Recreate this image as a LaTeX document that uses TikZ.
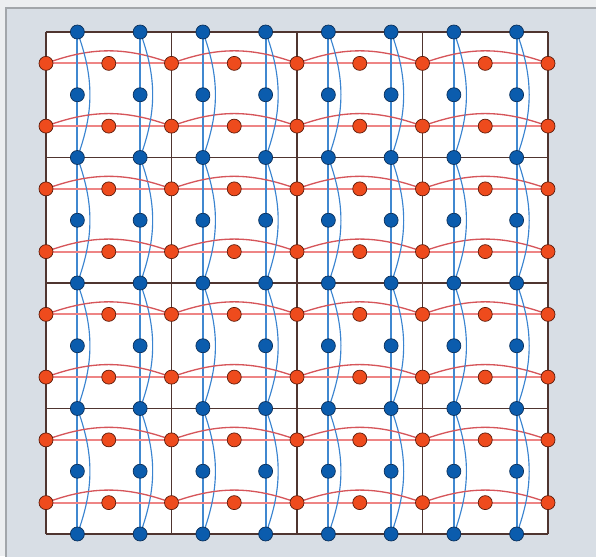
\documentclass[tikz,border=0pt]{standalone}
\usepackage{tikz}
\definecolor{OuterBg}{HTML}{ECEEF0}
\definecolor{PanelBg}{HTML}{D8DEE5}
\definecolor{PanelRule}{HTML}{A2A6AA}
\definecolor{CellRule}{HTML}{4F3530}
\definecolor{RedLine}{HTML}{EE8585}
\definecolor{RedWave}{HTML}{D6555A}
\definecolor{RedFill}{HTML}{EE4B1D}
\definecolor{RedEdge}{HTML}{5A1A0A}
\definecolor{BlueLine}{HTML}{4088D0}
\definecolor{BlueWave}{HTML}{3A84D0}
\definecolor{BlueFill}{HTML}{0B5CAD}
\definecolor{BlueEdge}{HTML}{0A2F5A}

\begin{document}
\begin{tikzpicture}[x=1.255cm,y=-1.255cm,
  reddot/.style={circle,draw=RedEdge,fill=RedFill,line width=0.4pt,
    inner sep=0pt,minimum size=0.28cm},
  bluedot/.style={circle,draw=BlueEdge,fill=BlueFill,line width=0.4pt,
    inner sep=0pt,minimum size=0.28cm},
  cellrule/.style={CellRule,line width=0.8pt},
  redline/.style={RedLine,line width=1.2pt},
  blueline/.style={BlueLine,line width=1pt},
  redwave/.style={RedWave,line width=0.75pt,bend left=20},
  bluewave/.style={BlueWave,line width=0.65pt,bend left=20}]
  \useasboundingbox (-0.733,-0.51) rectangle (8.765,8.351);
  \fill[OuterBg] (-0.733,-0.51) rectangle (8.765,8.351);
  \filldraw[fill=PanelBg,draw=PanelRule,line width=1pt]
    (-0.637,-0.382) rectangle (9.2,8.8);
  \fill[white] (0,0) rectangle (8,8);
  % lattice points
  \foreach \i in {0,...,7}
    \foreach \j in {0,...,8} {
      \coordinate (b-\i-\j) at (\i+0.5,\j);
      \coordinate (r-\j-\i) at (\j,\i+0.5);
    }
  % cells
  \foreach \k in {0,2,4,6,8} {
    \draw[cellrule] (\k,0) -- (\k,8);
    \draw[cellrule] (0,\k) -- (8,\k);
  }
  % straight lines
  \foreach \i in {0,...,7} {
    \draw[redline] (r-0-\i) -- (r-8-\i);
    \draw[blueline] (b-\i-0) -- (b-\i-8);
  }
  % waves
  \foreach \i in {0,...,7}
    \foreach \k in {0,2,4,6} {
      \pgfmathtruncatemacro\m{\k+2}
      \draw[redwave] (r-\k-\i) to (r-\m-\i);
      \draw[bluewave] (b-\i-\k) to (b-\i-\m);
    }
  % dots
  \foreach \i in {0,...,7}
    \foreach \j in {0,...,8} {
      \node[reddot] (rd-\j-\i) at (r-\j-\i) {};
      \node[bluedot] (bd-\i-\j) at (b-\i-\j) {};
    }
\end{tikzpicture}
\end{document}
